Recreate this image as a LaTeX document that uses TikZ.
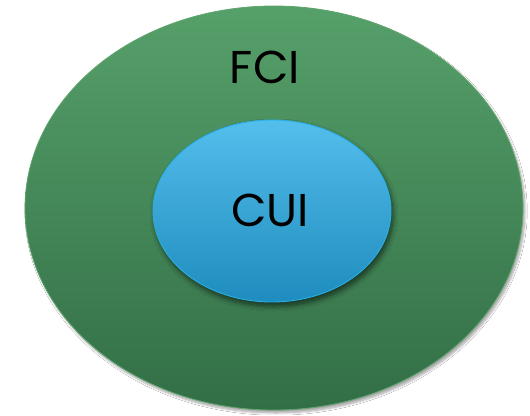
\documentclass[tikz,border=0pt]{standalone}
\usepackage{fontspec}
\setmainfont{Poppins}
\usetikzlibrary{shadows.blur}
\definecolor{gtop}{RGB}{86,160,106}
\definecolor{gbot}{RGB}{50,110,70}
\definecolor{gedge}{RGB}{95,165,110}
\definecolor{btop}{RGB}{84,190,236}
\definecolor{bbot}{RGB}{30,140,190}
\definecolor{bedge}{RGB}{40,175,230}
\tikzset{
  outerell/.style={ellipse, draw=gedge, line width=0.8pt, top color=gtop, bottom color=gbot,
     minimum width=498pt, minimum height=404pt, inner sep=0pt,
     blur shadow={shadow xshift=2pt, shadow yshift=-3pt, shadow blur steps=8, shadow opacity=35}},
  innerell/.style={ellipse, draw=bedge, line width=0.9pt, top color=btop, bottom color=bbot,
     minimum width=238pt, minimum height=182pt, inner sep=0pt,
     blur shadow={shadow xshift=2pt, shadow yshift=-4pt, shadow blur radius=5pt, shadow blur steps=10, shadow opacity=60}},
  lbl/.style={font=\fontsize{46}{50}\selectfont, text=black, inner sep=0pt}
}
\usetikzlibrary{shapes.geometric}
\begin{document}
\begin{tikzpicture}[x=1pt,y=-1pt]
\useasboundingbox (0,0) rectangle (530,415);
\fill[white] (0,0) rectangle (530,415);
\node[outerell] (fci) at (274,208) {};
\node[innerell] (cui) at (272,211) {};
\node[lbl] (fcit) at (265,67) {FCI};
\node[lbl] (cuit) at (270,210) {CUI};
\end{tikzpicture}
\end{document}
